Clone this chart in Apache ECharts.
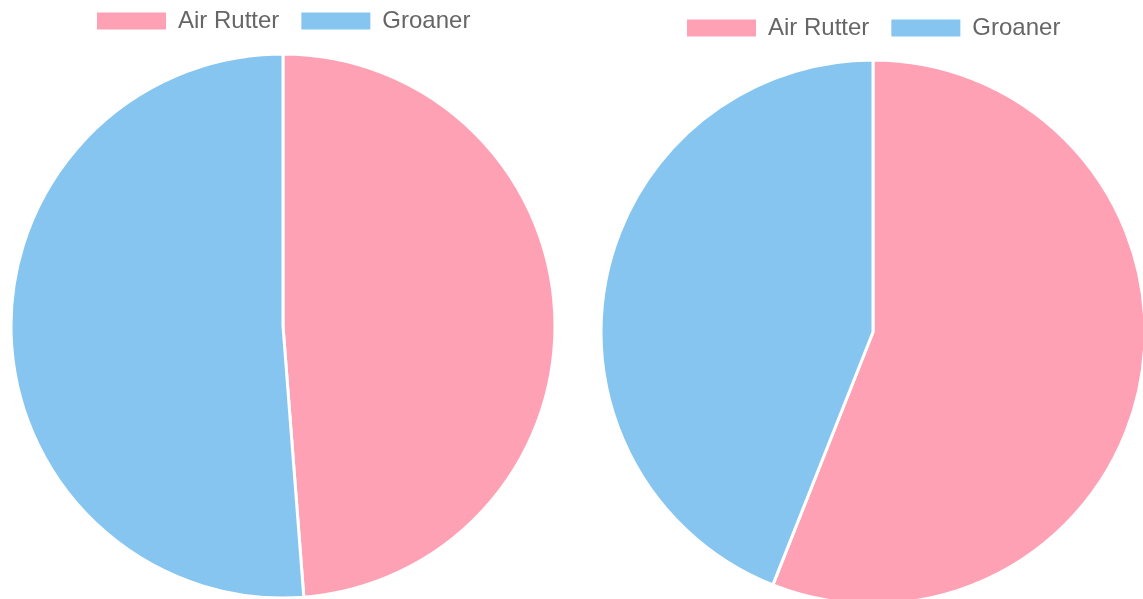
<!DOCTYPE html>
<html>
<head>
<meta charset="utf-8">
<script src="https://cdn.jsdelivr.net/npm/echarts@6/dist/echarts.min.js"></script>
<style>
  html, body { margin: 0; padding: 0; background: #fff; }
  #chart { width: 1143px; height: 599px; }
</style>
</head>
<body>
<div id="chart"></div>
<script>
  var names = ['Air Rutter', 'Groaner'];
  var leftValues = [20, 21];
  var rightValues = [14, 11];
  var colors = ['#ffa1b5', '#86c5f0'];

  function toData(values) {
    var res = [];
    for (var i = 0; i < names.length; i++) {
      res.push({ name: names[i], value: values[i] });
    }
    return res;
  }

  var legendBase = {
    data: names,
    icon: 'rect',
    padding: 0,
    itemWidth: 69,
    itemHeight: 17,
    itemGap: 22,
    itemStyle: { borderWidth: 0 },
    textStyle: { fontFamily: 'Liberation Sans', fontSize: 24, color: '#666', padding: [0, 0, 0, 7] }
  };

  var chart = echarts.init(document.getElementById('chart'));
  chart.setOption({
    animation: false,
    color: colors,
    legend: [
      Object.assign({ left: 97, top: 9 }, legendBase),
      Object.assign({ left: 687, top: 16 }, legendBase)
    ],
    series: [
      {
        type: 'pie',
        center: [283, 326],
        radius: 272,
        startAngle: 90,
        label: { show: false },
        labelLine: { show: false },
        itemStyle: { borderColor: '#fff', borderWidth: 3 },
        emphasis: { scale: false },
        data: toData(leftValues)
      },
      {
        type: 'pie',
        center: [873, 332],
        radius: 272,
        startAngle: 90,
        label: { show: false },
        labelLine: { show: false },
        itemStyle: { borderColor: '#fff', borderWidth: 3 },
        emphasis: { scale: false },
        data: toData(rightValues)
      }
    ]
  });
</script>
</body>
</html>
